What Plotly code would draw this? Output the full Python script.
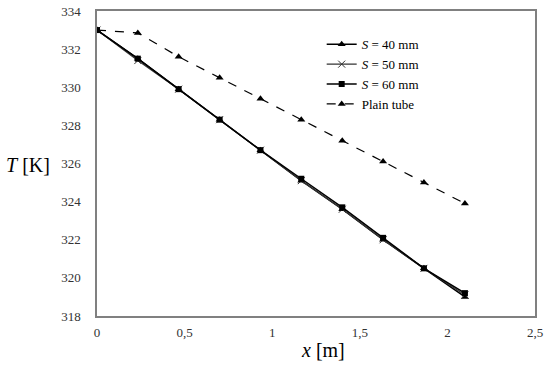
import plotly.graph_objects as go

x_vals = [0, 0.233, 0.466, 0.7, 0.933, 1.166, 1.4, 1.633, 1.866, 2.1]
t_s40 = [333.0, 331.5, 329.9, 328.3, 326.7, 325.1, 323.6, 322.0, 320.5, 319.0]
t_s50 = [333.0, 331.4, 329.9, 328.3, 326.7, 325.1, 323.6, 322.0, 320.5, 319.1]
t_s60 = [333.0, 331.5, 329.9, 328.3, 326.7, 325.2, 323.7, 322.1, 320.5, 319.2]
t_plain = [333.0, 332.85, 331.6, 330.5, 329.4, 328.3, 327.2, 326.1, 325.0, 323.9]

x_ticks = [0, 0.5, 1, 1.5, 2, 2.5]
x_tick_text = ["0", "0,5", "1", "1,5", "2", "2,5"]
y_ticks = [318, 320, 322, 324, 326, 328, 330, 332, 334]

fig = go.Figure()
fig.add_trace(go.Scatter(x=x_vals, y=t_s40, mode="lines+markers", name="<i>S</i> = 40 mm",
                         line=dict(color="black", width=1.5),
                         marker=dict(symbol="triangle-up", size=7, color="black")))
fig.add_trace(go.Scatter(x=x_vals, y=t_s50, mode="lines+markers", name="<i>S</i> = 50 mm",
                         line=dict(color="#333333", width=1.2),
                         marker=dict(symbol="x-thin", size=7, line=dict(color="#333333", width=1))))
fig.add_trace(go.Scatter(x=x_vals, y=t_s60, mode="lines+markers", name="<i>S</i> = 60 mm",
                         line=dict(color="black", width=1.5),
                         marker=dict(symbol="square", size=6, color="black")))
fig.add_trace(go.Scatter(x=x_vals, y=t_plain, mode="lines+markers", name="Plain tube",
                         line=dict(color="black", width=1.2, dash="dash"),
                         marker=dict(symbol="triangle-up", size=7, color="black")))

axis_common = dict(showgrid=False, zeroline=False, showline=True, mirror=True,
                   linecolor="#808080", linewidth=1.5, ticks="", automargin=False,
                   tickfont=dict(family="Liberation Serif", size=13, color="#333333"))

fig.update_layout(
    width=550, height=367,
    margin=dict(l=97, r=15, t=11, b=51),
    paper_bgcolor="white", plot_bgcolor="white",
    font=dict(family="Liberation Serif", color="black"),
    xaxis=dict(range=[0, 2.5], tickvals=x_ticks, ticktext=x_tick_text,
               ticklabelstandoff=4, **axis_common),
    yaxis=dict(range=[318, 334], tickvals=y_ticks, ticklabelstandoff=12, **axis_common),
    legend=dict(x=0.513, y=0.94, xanchor="left", yanchor="top",
                bgcolor="rgba(0,0,0,0)", font=dict(family="Liberation Serif", size=13),
                tracegroupgap=0, itemwidth=30),
    showlegend=True,
    annotations=[
        dict(text="<i>T</i> [K]", x=(28 - 97) / 438, y=(316 - 165) / 305,
             xref="paper", yref="paper", xanchor="center", yanchor="middle",
             showarrow=False, font=dict(family="Liberation Serif", size=20)),
        dict(text="<i>x</i> [m]", x=(323 - 97) / 438, y=-(350 - 316) / 305,
             xref="paper", yref="paper", xanchor="center", yanchor="middle",
             showarrow=False, font=dict(family="Liberation Serif", size=20)),
    ],
)

fig.write_html("out.html", config={"displayModeBar": False},
               post_script="document.body.style.margin='0';document.body.style.overflow='hidden';")
